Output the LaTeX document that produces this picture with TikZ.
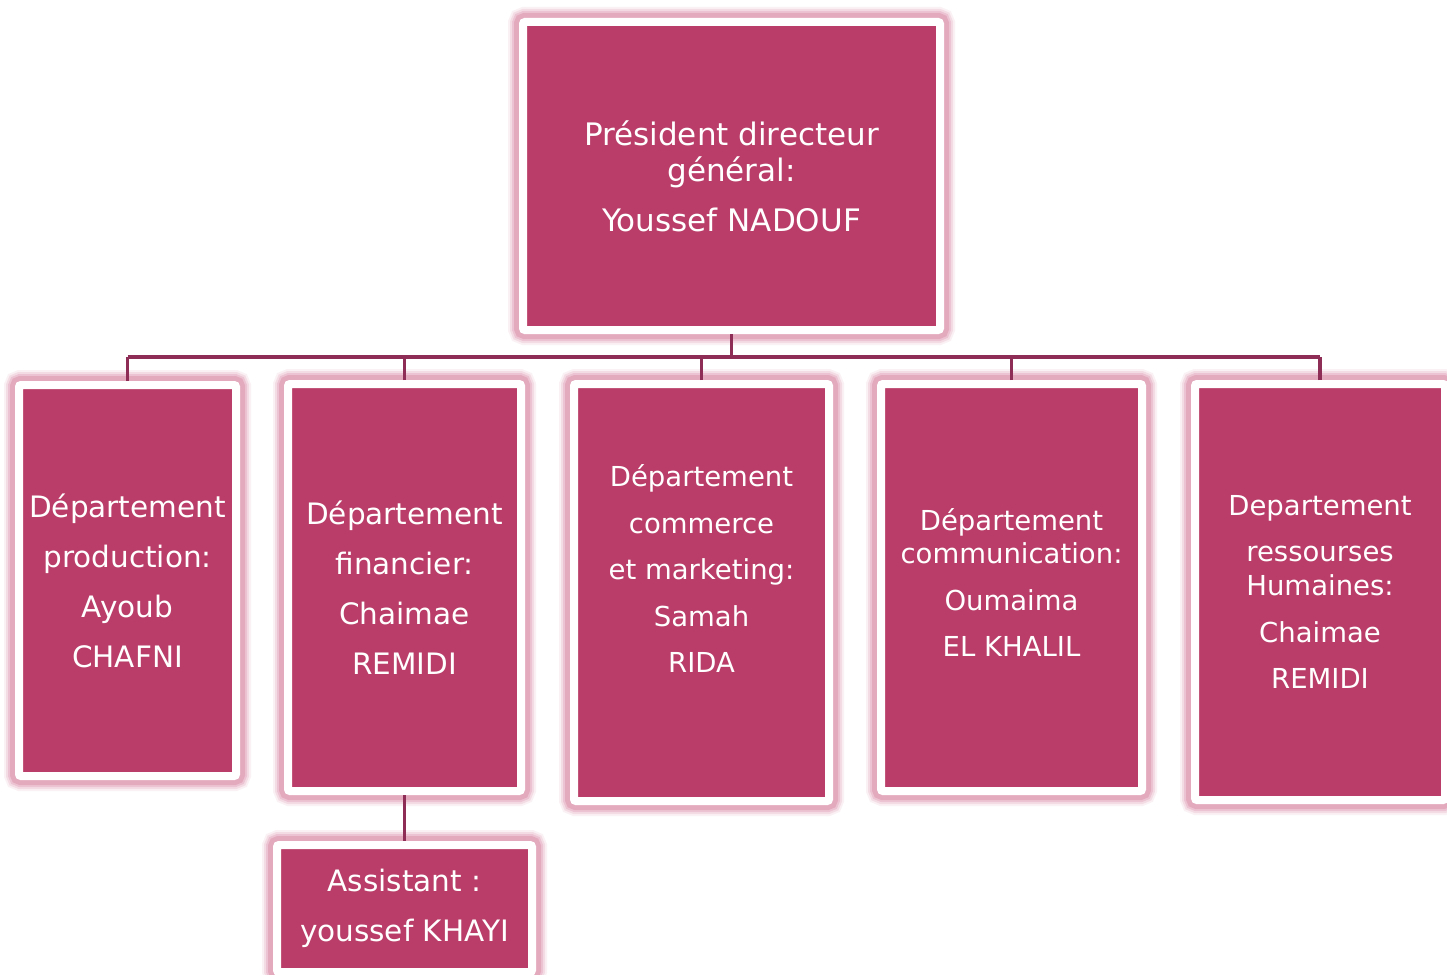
\documentclass[tikz,border=0pt]{standalone}
\usepackage{fontspec}
\setmainfont{DejaVu Sans}
\definecolor{boxfill}{HTML}{B93D68}
\definecolor{glowpink}{HTML}{D98AA6}
\definecolor{linkcol}{HTML}{8E2D55}

\tikzset{
  post/.style={draw=white, fill=boxfill, line width=8pt, rounded corners=2pt, inner sep=0pt,
    preaction={draw=glowpink, line width=30pt, opacity=0.12},
    preaction={draw=glowpink, line width=26pt, opacity=0.2},
    preaction={draw=glowpink, line width=22pt, opacity=0.3},
    preaction={draw=glowpink, line width=18pt, opacity=0.45}},
  bigtext/.style={text=white, align=center, font=\fontsize{29.5}{50}\selectfont},
  smalltext/.style={text=white, align=center, font=\fontsize{27.5}{46.5}\selectfont},
  link/.style={draw=linkcol, line width=3.5pt}
}

\begin{document}
\begin{tikzpicture}[x=1pt,y=-1pt]
\useasboundingbox (0,0) rectangle (1447,974);
% boxes
\node[post, minimum width=417pt, minimum height=308pt] (pdg) at (731.5,176) {};
\node[post, minimum width=217pt, minimum height=391pt] (b1) at (127.5,580.5) {};
\node[post, minimum width=233pt, minimum height=407pt] (b2) at (404.5,587.5) {};
\node[post, minimum width=255pt, minimum height=417pt] (b3) at (701.5,592.5) {};
\node[post, minimum width=261pt, minimum height=407pt] (b4) at (1011.5,587.5) {};
\node[post, minimum width=250pt, minimum height=416pt] (b5) at (1320,592) {};
\node[post, minimum width=255pt, minimum height=127pt] (asst) at (404.5,908.5) {};
% texts
\node[bigtext, font=\fontsize{31}{50}\selectfont] (tpdg) at (pdg.center) {Président directeur\\[-14pt]général:\\Youssef NADOUF};
\node[bigtext] (t1) at (b1.center) {Département\\production:\\Ayoub\\CHAFNI};
\node[bigtext] (t2) at (b2.center) {Département\\financier:\\Chaimae\\REMIDI};
\node[smalltext] (t3) at ([yshift=24pt]b3.center) {Département\\commerce\\et marketing:\\Samah\\RIDA};
\node[smalltext] (t4) at ([yshift=5pt]b4.center) {Département\\[-13.5pt]communication:\\Oumaima\\EL KHALIL};
\node[smalltext] (t5) at (b5.center) {Departement\\ressourses\\[-12.5pt]Humaines:\\Chaimae\\REMIDI};
\node[bigtext] (tasst) at (asst.center) {Assistant :\\youssef KHAYI};
% links
\coordinate (bus) at (0,357);
\draw[link] (pdg.south) -- (pdg.south |- bus);
\draw[link] (b1.north |- bus) -- (b5.north |- bus);
\foreach \b in {b1,b2,b3,b4,b5}{\draw[link] (\b.north) -- (\b.north |- bus);}
\draw[link] (b2.south) -- (asst.north);
\end{tikzpicture}
\end{document}
